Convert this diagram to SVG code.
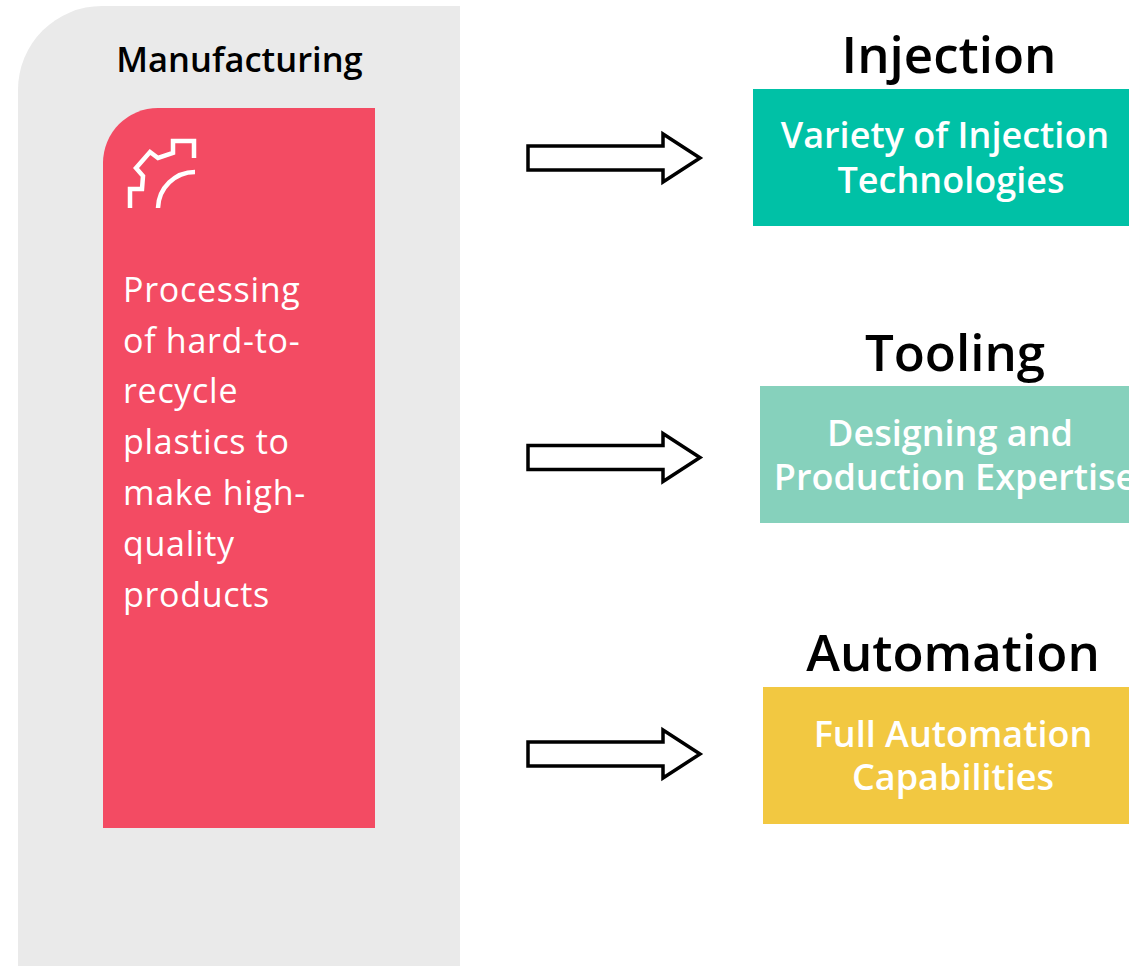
<svg xmlns="http://www.w3.org/2000/svg" width="1129" height="966" viewBox="0 0 1129 966">
<style>
.title{font-family:"Open Sans","Liberation Sans",sans-serif;font-weight:600;fill:#000;text-anchor:middle}
.boxtxt{font-family:"Open Sans","Liberation Sans",sans-serif;font-weight:600;fill:#fff;text-anchor:middle;font-size:36px}
.body{font-family:"Open Sans","Liberation Sans",sans-serif;font-weight:400;fill:#fff;font-size:34px;letter-spacing:0.7px}
.arrow{fill:#fff;stroke:#000;stroke-width:3.5;stroke-linejoin:miter}
.icon{fill:none;stroke:#fff;stroke-width:4.5}
</style>
<rect width="1129" height="966" fill="#fff"/>
<g id="manufacturing">
<path d="M18,966 V90 A84,84 0 0 1 102,6 H460 V966 Z" fill="#eaeaea"/>
<text class="title" x="239.5" y="72" font-size="34.5" font-weight="700">Manufacturing</text>
<path d="M103,828 V163 A55,55 0 0 1 158,108 H375 V828 Z" fill="#f34b63"/>
<g id="gear-icon">
<path class="icon" d="M130,208 V189 H142 L143,176 L136,168 L150,152 L158,158 L173,153 V141 H194 V158"/>
<path class="icon" d="M158,208 A37,37 0 0 1 195,172"/>
</g>
<text class="body" x="123"><tspan x="123" y="302">Processing</tspan><tspan x="123" y="353">of hard-to-</tspan><tspan x="123" y="403">recycle</tspan><tspan x="123" y="454">plastics to</tspan><tspan x="123" y="505">make high-</tspan><tspan x="123" y="556">quality</tspan><tspan x="123" y="607">products</tspan></text>
</g>
<g id="connectors">
<polygon class="arrow" points="528,146 663,146 663,134 700,158 663,182 663,170 528,170"/>
<polygon class="arrow" points="528,445.5 663,445.5 663,433.5 700,457.5 663,481.5 663,469.5 528,469.5"/>
<polygon class="arrow" points="528,742 663,742 663,730 700,754 663,778 663,766 528,766"/>
</g>
<g id="injection">
<text class="title" x="949" y="73" font-size="51">Injection</text>
<rect x="753" y="89" width="376" height="137" fill="#00c1a6"/>
<text class="boxtxt" x="945" y="148">Variety of Injection</text>
<text class="boxtxt" x="951" y="193">Technologies</text>
</g>
<g id="tooling">
<text class="title" x="955" y="371" font-size="51">Tooling</text>
<rect x="760" y="386" width="369" height="137" fill="#86d1bc"/>
<text class="boxtxt" x="950" y="446">Designing and</text>
<text class="boxtxt" x="955" y="490">Production Expertise</text>
</g>
<g id="automation">
<text class="title" x="953" y="671" font-size="51">Automation</text>
<rect x="763" y="687" width="366" height="137" fill="#f2c841"/>
<text class="boxtxt" x="953" y="747">Full Automation</text>
<text class="boxtxt" x="953" y="790">Capabilities</text>
</g>
</svg>
